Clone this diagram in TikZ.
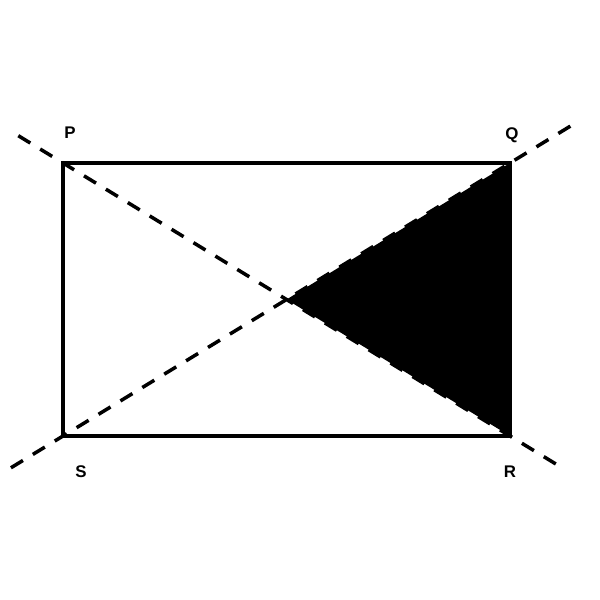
\documentclass[tikz,border=0pt]{standalone}
\usepackage{fontspec}
\setmainfont{Liberation Sans}
\usetikzlibrary{calc}

\begin{document}
\begin{tikzpicture}[
  font=\fontsize{4.8}{6}\selectfont\bfseries,
  side/.style={line width=0.95pt},
  diag/.style={line width=1pt, dash pattern=on 4pt off 3.3pt},
  lbl/.style={inner sep=0pt}
]
\useasboundingbox (0,0) rectangle (6,6);
\coordinate (P) at (0.63,4.37);
\coordinate (Q) at (5.10,4.37);
\coordinate (R) at (5.10,1.64);
\coordinate (S) at (0.63,1.64);
\coordinate (O) at ($(P)!0.5!(R)$);

\draw[side] (P) -- (Q) -- (R) -- (S) -- cycle;

% diagonals, extended beyond the corners
\draw[diag] ($(P)!-0.1!(R)$) -- ($(R)!-0.107!(P)$);
\draw[diag] ($(Q)!-0.135!(S)$) -- ($(S)!-0.118!(Q)$);

% shaded triangle
\fill[black] (Q) -- (R) -- (O) -- cycle;

\node[lbl] (p) at (0.70,4.67) {P};
\node[lbl] (q) at (5.12,4.65) {Q};
\node[lbl] (s) at (0.81,1.28) {S};
\node[lbl] (r) at (5.10,1.28) {R};
\end{tikzpicture}
\end{document}
